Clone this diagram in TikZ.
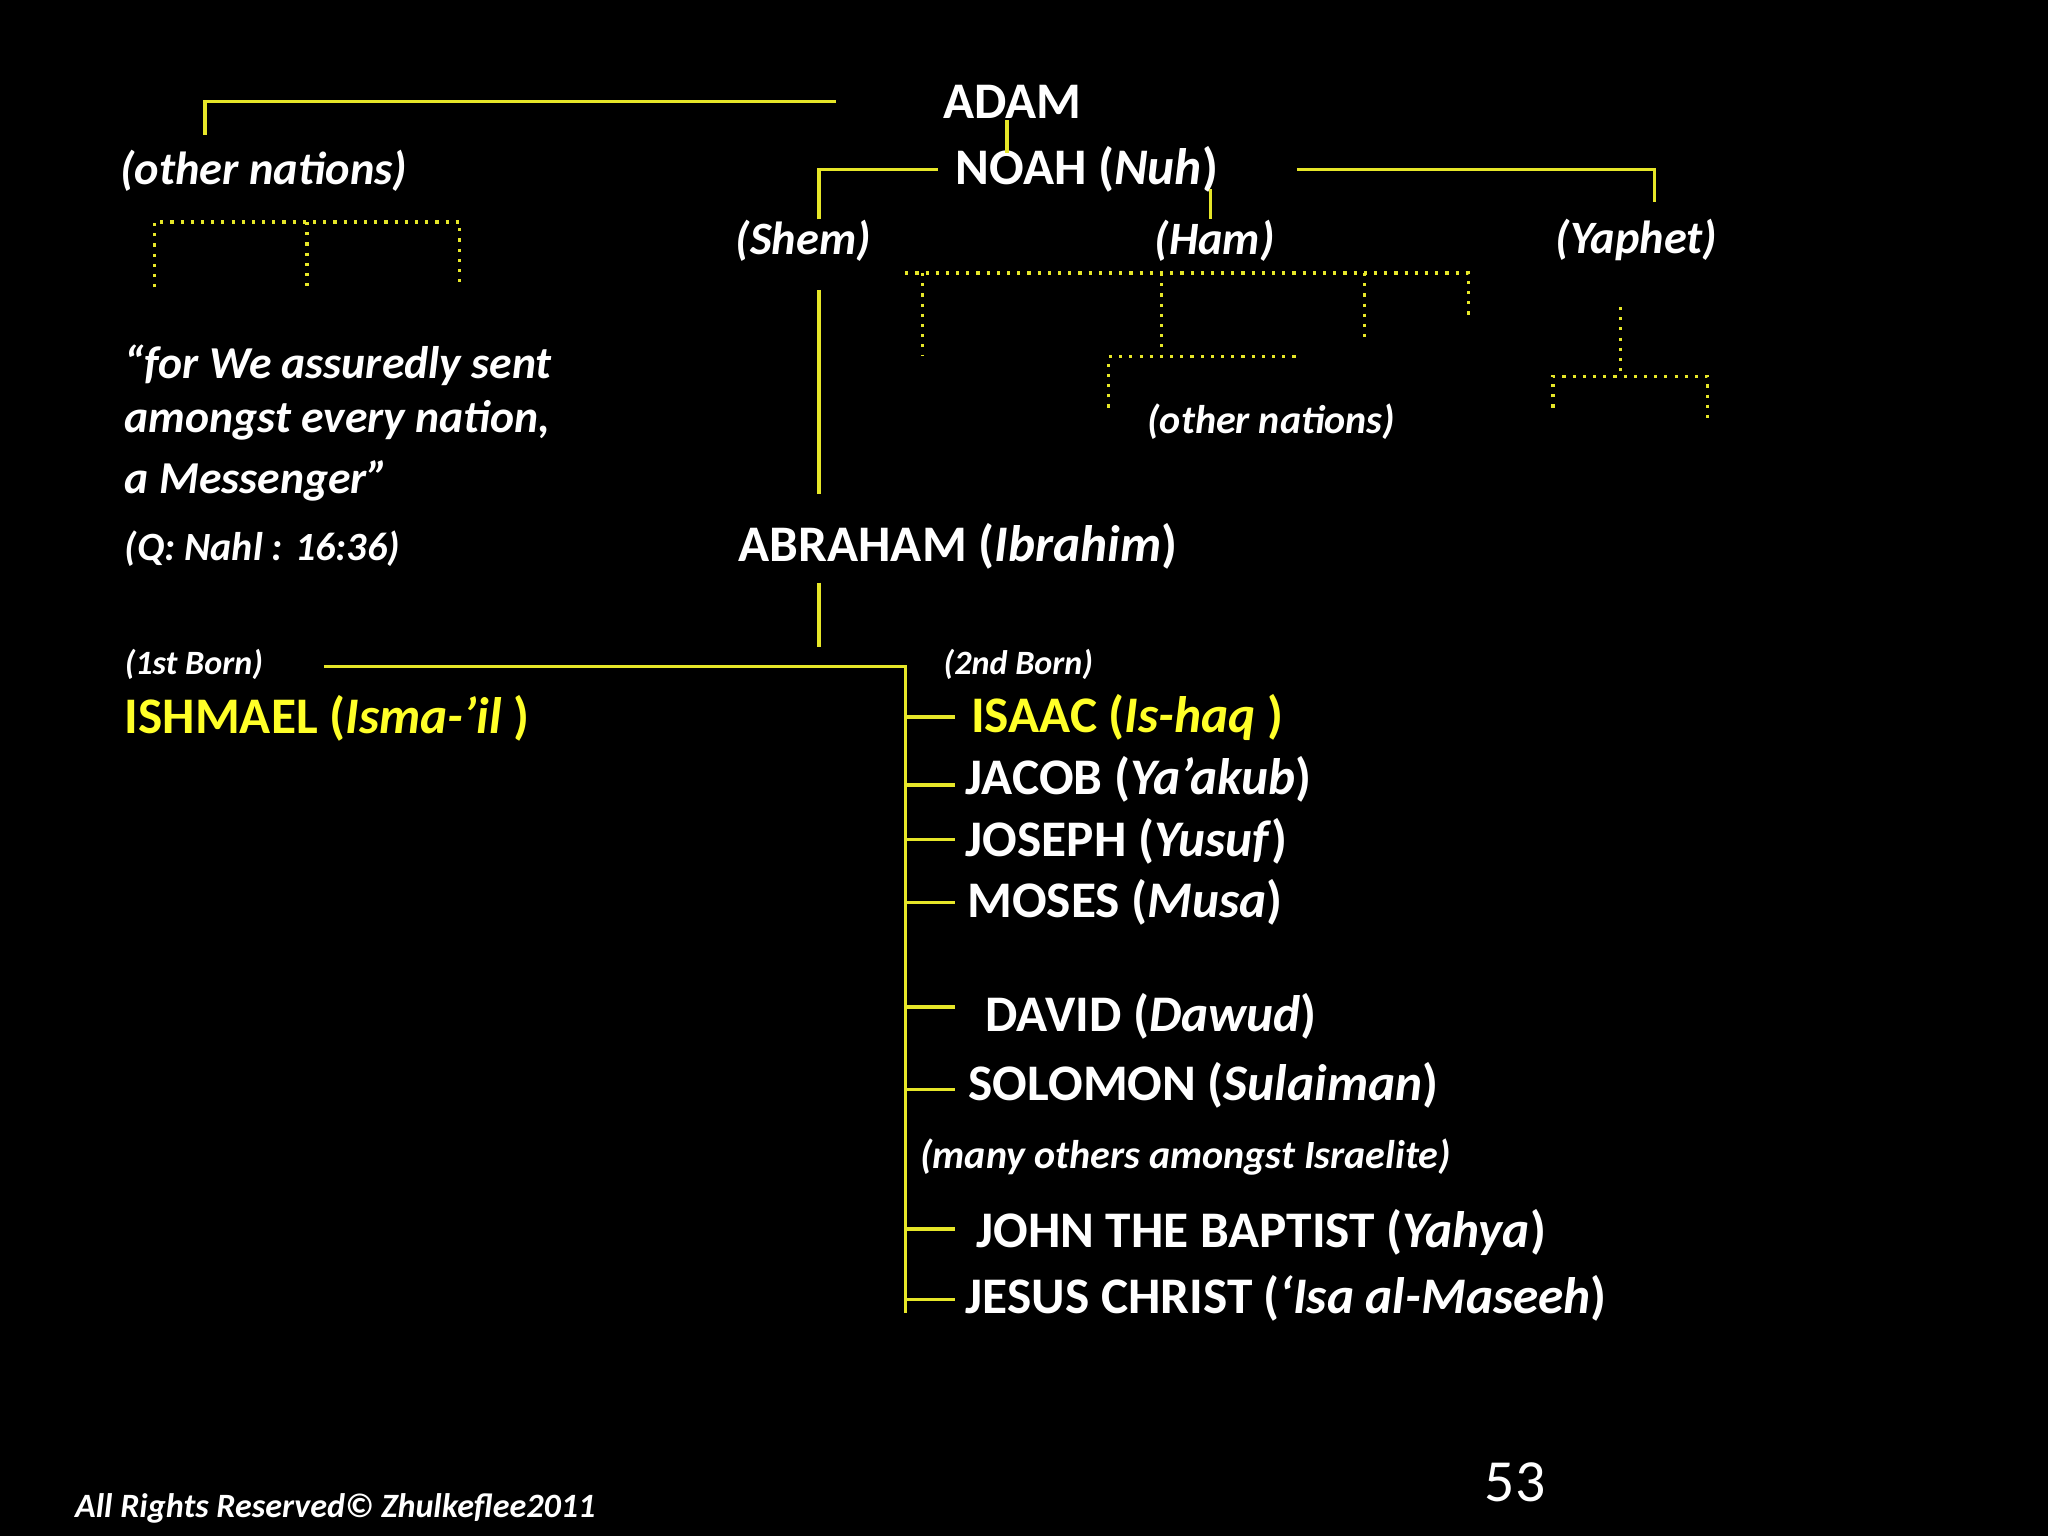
\documentclass[tikz,border=0pt]{standalone}
\usepackage{fontspec}
\setmainfont{Carlito}
\usepackage{xcolor}
\usetikzlibrary{positioning}
\definecolor{tline}{RGB}{230,230,40}
\definecolor{tyel}{RGB}{255,255,40}
\begin{document}
\begin{tikzpicture}[x=0.01306cm,y=-0.01306cm,
        every node/.style = {text=white, font=\bfseries\fontsize{14.6}{18}\selectfont, inner sep=0pt},
        entry/.style = {anchor=west},
        branch/.style = {font=\bfseries\itshape\fontsize{13.2}{16}\selectfont},
        note/.style = {anchor=west, font=\bfseries\itshape\fontsize{11.4}{14}\selectfont},
        tiny/.style = {anchor=west, font=\bfseries\itshape\fontsize{9.7}{12}\selectfont},
        quote/.style = {anchor=west, font=\bfseries\itshape\fontsize{13}{16}\selectfont},
        solid line/.style = {draw=tline, line width=0.9pt},
        dot line/.style = {draw=tline, line width=0.9pt, dotted}
        ]
        \fill[black] (0,0) rectangle (1568,1176);
        % top of the tree
        \node (adam) at (775,78) {ADAM};
        \node (noah) at (832,130) {NOAH (\textit{Nuh})};
        \node[branch] (others) at (202,131) {(other nations)};
        \node[branch] (shem) at (615,184) {(Shem)};
        \node[branch] (ham) at (930,184) {(Ham)};
        \node[branch] (yaphet) at (1253,184) {(Yaphet)};
        \node[note] (hamothers) at (878,323) {(other nations)};
        \coordinate (a1) at (157,78); \coordinate (a2) at (640,78);
        \draw[solid line] (157,103) -- (a1) -- (a2);
        \draw[solid line] (771,92) -- (771,117);
        \draw[solid line] (627,168) -- (627,130) -- (718,130);
        \draw[solid line] (927,145) -- (927,168);
        \draw[solid line] (993,130) -- (1267,130) -- (1267,155);
        % dotted branches
        \draw[dot line] (118,220) -- (118,170) -- (352,170) -- (352,220);
        \draw[dot line] (235,170) -- (235,220);
        \draw[dot line] (693,209) -- (1124,209) -- (1124,245);
        \foreach \x/\y in {706/272, 889/272, 1045/260}
          \draw[dot line] (\x,209) -- (\x,\y);
        \draw[dot line] (849,312) -- (849,273) -- (993,273);
        \draw[dot line] (1241,235) -- (1241,288);
        \draw[dot line] (1189,312) -- (1189,288) -- (1307,288) -- (1307,323);
        % quote
        \node[quote] (q1) at (95,280) {“for We assuredly sent};
        \node[quote] (q2) at (95,322) {amongst every nation,};
        \node[quote] (q3) at (95,368) {a Messenger”};
        \node[note] (ref) at (95,420) {(Q: Nahl : 16:36)};
        % Abraham
        \draw[solid line] (627,222) -- (627,378);
        \node[entry] (abraham) at (565,418) {ABRAHAM (\textit{Ibrahim})};
        \draw[solid line] (627,446) -- (627,495);
        \draw[solid line] (248,510) -- (693,510) -- (693,1005);
        \node[tiny] (first) at (95,509) {(1st Born)};
        \node[entry, text=tyel] (ishmael) at (95,550) {ISHMAEL (\textit{Isma-’il} )};
        \node[tiny] (second) at (722,509) {(2nd Born)};
        % prophets
        \foreach \y in {549,601,643,691,771,834,941,995}
          \draw[solid line] (693,\y) -- (731,\y);
        \node[entry, text=tyel] (isaac) at (743,549) {ISAAC (\textit{Is-haq} )};
        \node[entry] (jacob) at (739,597) {JACOB (\textit{Ya’akub})};
        \node[entry] (joseph) at (739,644) {JOSEPH (\textit{Yusuf})};
        \node[entry] (moses) at (740,691) {MOSES (\textit{Musa})};
        \node[entry] (david) at (754,778) {DAVID (\textit{Dawud})};
        \node[entry] (solomon) at (741,831) {SOLOMON (\textit{Sulaiman})};
        \node[note] (many) at (704,886) {(many others amongst Israelite)};
        \node[entry] (john) at (747,944) {JOHN THE BAPTIST (\textit{Yahya})};
        \node[entry] (jesus) at (739,994) {JESUS CHRIST (\textit{‘Isa al-Maseeh})};
        % footer
        \node[tiny] (rights) at (57,1155) {All Rights Reserved© Zhulkeflee2011};
        \node[font=\fontsize{17}{20}\selectfont] (page) at (1160,1135) {53};
        \end{tikzpicture}
\end{document}
